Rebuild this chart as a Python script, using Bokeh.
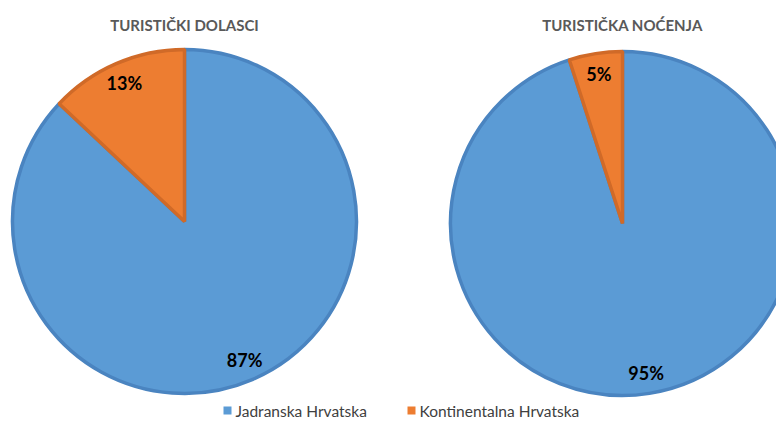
import math
from bokeh.plotting import figure
from bokeh.models import ColumnDataSource
from bokeh.core.properties import value
from bokeh.embed import file_html
from bokeh.resources import INLINE

# ---- data ----
categories = ["Jadranska Hrvatska", "Kontinentalna Hrvatska"]
titles = ["TURISTIČKI DOLASCI", "TURISTIČKA NOĆENJA"]
dolasci = [87, 13]
nocenja = [95, 5]
series = [dolasci, nocenja]

colors = ["#5B9BD5", "#ED7D31"]
edge_colors = ["#4A84C0", "#D06A28"]

W, H = 776, 418
p = figure(width=W, height=H, x_range=(0, W), y_range=(0, H),
           output_backend="svg", toolbar_location=None, min_border=0)
p.axis.visible = False
p.grid.visible = False
p.outline_line_color = None
p.background_fill_color = "white"
p.border_fill_color = "white"

centers = [(184, 197), (622, 195)]
R = 172
FONT = "Lato"

for (cx, cy), vals, title in zip(centers, series, titles):
    total = float(sum(vals))
    # Excel style: first slice starts at 12 o'clock and goes clockwise
    start = 90.0
    starts, ends, mids = [], [], []
    for v in vals:
        sweep = v / total * 360.0
        end = start - sweep
        starts.append(math.radians(end))
        ends.append(math.radians(start))
        mids.append(math.radians((start + end) / 2))
        start = end
    src = ColumnDataSource(dict(x=[cx] * len(vals), y=[cy] * len(vals),
                                s=starts, e=ends, fill=colors, line=edge_colors))
    p.wedge(x="x", y="y", radius=R, start_angle="s", end_angle="e",
            direction="anticlock", fill_color="fill", line_color="line",
            line_width=3.5, source=src)
    lx = [cx + 0.88 * R * math.cos(m) for m in mids]
    ly = [cy + 0.88 * R * math.sin(m) for m in mids]
    labels = [f"{v}%" for v in vals]
    p.text(x=lx, y=ly, text=labels, text_align="center", text_baseline="middle",
           text_font=value(FONT), text_font_style="bold", text_font_size="18px",
           text_color="#000000")
    p.text(x=[cx], y=[H - 24], text=[title], text_align="center",
           text_baseline="middle", text_font=value(FONT), text_font_style="bold",
           text_font_size="15px", text_color="#595959")

# legend
leg_x = [227, 411]
leg_y = 8
p.scatter(x=leg_x, y=[leg_y] * 2, marker="square", size=8,
          fill_color=colors, line_color=None)
p.text(x=[x + 8 for x in leg_x], y=[leg_y] * 2, text=categories,
       text_align="left", text_baseline="middle", text_font=value(FONT),
       text_font_size="15.5px", text_color="#404040")

open("out.html", "w").write(file_html(p, INLINE))
